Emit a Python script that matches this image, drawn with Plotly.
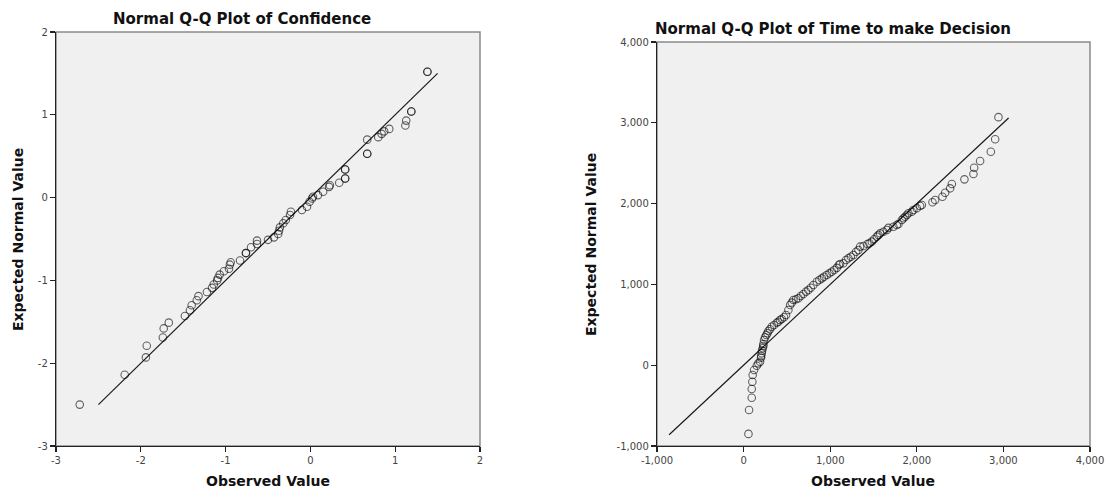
import plotly.graph_objects as go

# ---------------- data ----------------
# Normal Q-Q plot of Confidence (observed value, expected normal value)
conf_observed = [-2.72, -2.19, -1.94, -1.93, -1.74, -1.73, -1.67, -1.48, -1.42, -1.40,
                 -1.34, -1.32, -1.22, -1.16, -1.14, -1.10, -1.09, -1.07, -1.02, -0.96,
                 -0.95, -0.94, -0.83, -0.76, -0.76, -0.70, -0.63, -0.63, -0.50, -0.43,
                 -0.38, -0.37, -0.36, -0.32, -0.29, -0.24, -0.23, -0.10, -0.04, -0.01,
                 0.02, 0.03, 0.09, 0.15, 0.22, 0.23, 0.34, 0.41, 0.41, 0.41,
                 0.41, 0.67, 0.67, 0.67, 0.80, 0.84, 0.87, 0.93, 1.12, 1.13,
                 1.19, 1.19, 1.38, 1.38]
conf_expected = [-2.50, -2.14, -1.93, -1.79, -1.69, -1.58, -1.51, -1.43, -1.36, -1.30,
                 -1.24, -1.19, -1.14, -1.09, -1.05, -1.00, -0.97, -0.93, -0.89, -0.86,
                 -0.81, -0.78, -0.76, -0.67, -0.67, -0.60, -0.56, -0.52, -0.51, -0.48,
                 -0.44, -0.40, -0.36, -0.31, -0.27, -0.21, -0.17, -0.15, -0.11, -0.05,
                 -0.01, 0.01, 0.03, 0.07, 0.13, 0.15, 0.18, 0.23, 0.23, 0.34,
                 0.34, 0.53, 0.53, 0.70, 0.73, 0.77, 0.80, 0.83, 0.87, 0.93,
                 1.04, 1.04, 1.52, 1.52]
conf_line = [-2.5, 1.5]

# Normal Q-Q plot of Time to make Decision (observed value, expected normal value)
time_observed = [56, 63, 94, 94, 101, 105, 121, 152, 170, 190,
                 201, 203, 209, 213, 221, 228, 228, 236, 248, 262,
                 275, 286, 305, 325, 352, 383, 401, 421, 440, 467,
                 490, 517, 537, 556, 575, 606, 633, 660, 690, 721,
                 748, 776, 806, 845, 875, 903, 929, 960, 991, 1018,
                 1045, 1076, 1100, 1114, 1152, 1183, 1210, 1238, 1268, 1299,
                 1326, 1345, 1384, 1430, 1453, 1480, 1507, 1538, 1557, 1576,
                 1615, 1654, 1672, 1730, 1769, 1788, 1827, 1846, 1865, 1885,
                 1903, 1942, 1961, 2000, 2038, 2058, 2181, 2212, 2296, 2327,
                 2385, 2405, 2550, 2654, 2662, 2731, 2855, 2905, 2943]
time_expected = [-850, -554, -402, -295, -204, -121, -59, -6, 23, 43,
                 93, 114, 147, 180, 209, 238, 262, 312, 345, 374,
                 395, 423, 444, 476, 498, 526, 538, 559, 572, 593,
                 621, 683, 745, 774, 807, 816, 828, 856, 881, 910,
                 931, 959, 993, 1033, 1054, 1075, 1095, 1116, 1137, 1157,
                 1178, 1205, 1240, 1252, 1261, 1302, 1323, 1343, 1364, 1405,
                 1426, 1467, 1475, 1500, 1510, 1529, 1558, 1591, 1611, 1632,
                 1652, 1673, 1700, 1714, 1735, 1748, 1797, 1818, 1838, 1859,
                 1880, 1900, 1921, 1942, 1970, 1983, 2016, 2045, 2085, 2135,
                 2189, 2243, 2300, 2366, 2444, 2527, 2642, 2796, 3070]
time_line = [-860, 3060]

conf_ticks = [-3, -2, -1, 0, 1, 2]
conf_ticktext = ["-3", "-2", "-1", "0", "1", "2"]
time_ticks = [-1000, 0, 1000, 2000, 3000, 4000]
time_ticktext = ["-1,000", "0", "1,000", "2,000", "3,000", "4,000"]

titles = ["Normal Q-Q Plot of Confidence", "Normal Q-Q Plot of Time to make Decision"]
x_title = "Observed Value"
y_title = "Expected Normal Value"

# ---------------- figure ----------------
W, H = 1109, 492
FONT = "DejaVu Sans"
marker = dict(symbol="circle-open", size=7.5, color="rgba(0,0,0,0.6)",
              line=dict(width=1.1, color="rgba(0,0,0,0.6)"))

fig = go.Figure()
fig.add_trace(go.Scatter(x=conf_line, y=conf_line, mode="lines",
                         line=dict(color="#1a1a1a", width=1.2), xaxis="x", yaxis="y",
                         hoverinfo="skip"))
fig.add_trace(go.Scatter(x=conf_observed, y=conf_expected, mode="markers", marker=marker,
                         xaxis="x", yaxis="y"))
fig.add_trace(go.Scatter(x=time_line, y=time_line, mode="lines",
                         line=dict(color="#1a1a1a", width=1.2), xaxis="x2", yaxis="y2",
                         hoverinfo="skip"))
fig.add_trace(go.Scatter(x=time_observed, y=time_expected, mode="markers", marker=marker,
                         xaxis="x2", yaxis="y2"))


def px_x(p):
    return p / W


def px_y(p):
    return 1 - p / H


axis_common = dict(showgrid=False, zeroline=False, showline=True, linecolor="#222",
                   linewidth=1.2, ticks="outside", ticklen=5, tickwidth=1.2,
                   tickcolor="#222", tickfont=dict(family=FONT, size=10, color="#444"),
                   fixedrange=True, automargin=False)

fig.update_layout(
    width=W, height=H, autosize=False,
    margin=dict(l=0, r=0, t=0, b=0, pad=0, autoexpand=False),
    paper_bgcolor="white", plot_bgcolor="#F0F0F0",
    showlegend=False,
    xaxis=dict(domain=[px_x(56), px_x(480)], range=[-3, 2], anchor="y",
               tickvals=conf_ticks, ticktext=conf_ticktext, **axis_common),
    yaxis=dict(domain=[px_y(446), px_y(32)], range=[-3, 2], anchor="x",
               tickvals=conf_ticks, ticktext=conf_ticktext, **axis_common),
    xaxis2=dict(domain=[px_x(657), px_x(1090)], range=[-1000, 4000], anchor="y2",
                tickvals=time_ticks, ticktext=time_ticktext, **axis_common),
    yaxis2=dict(domain=[px_y(446), px_y(42)], range=[-1000, 4000], anchor="x2",
                tickvals=time_ticks, ticktext=time_ticktext, **axis_common),
)

# grey frame on top/right
for xr, yr in (("x", "y"), ("x2", "y2")):
    fig.add_shape(type="rect", xref=f"{xr} domain", yref=f"{yr} domain",
                  x0=0, x1=1, y0=0, y1=1, line=dict(color="#8a8a8a", width=1.5),
                  layer="below")

title_font = dict(family=FONT, size=15, color="#111", weight="bold")
axis_font = dict(family=FONT, size=14, color="#111", weight="bold")
ann = [
    dict(text=titles[0], x=px_x(242), y=px_y(19), font=title_font),
    dict(text=titles[1], x=px_x(833), y=px_y(29), font=title_font),
    dict(text=x_title, x=px_x(268), y=px_y(481), font=axis_font),
    dict(text=x_title, x=px_x(873), y=px_y(481), font=axis_font),
    dict(text=y_title, x=px_x(18), y=px_y(240), font=axis_font, textangle=-90),
    dict(text=y_title, x=px_x(591), y=px_y(245), font=axis_font, textangle=-90),
]
for a in ann:
    fig.add_annotation(xref="paper", yref="paper", showarrow=False,
                       xanchor="center", yanchor="middle", **a)

# remove the default 8px page margin so the figure sits at the window's top-left
fig.write_html("out.html",
               config={"displayModeBar": False, "staticPlot": True},
               post_script="document.body.style.margin='0px';"
                           "document.body.style.overflow='hidden';")
